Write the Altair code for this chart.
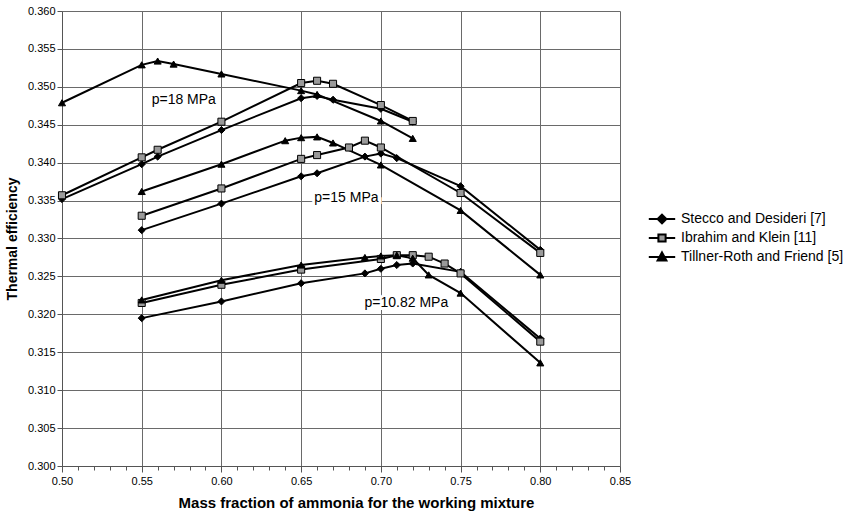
import altair as alt
import pandas as pd

SOURCES = ["Stecco and Desideri [7]", "Ibrahim and Klein [11]", "Tillner-Roth and Friend [5]"]

# Stecco and Desideri [7] (diamonds)
stecco_18_x = [0.50, 0.55, 0.56, 0.60, 0.65, 0.66, 0.67, 0.70, 0.72]
stecco_18_y = [0.3352, 0.3398, 0.3408, 0.3443, 0.3485, 0.3488, 0.3483, 0.3471, 0.3454]
stecco_15_x = [0.55, 0.60, 0.65, 0.66, 0.69, 0.70, 0.71, 0.75, 0.80]
stecco_15_y = [0.3311, 0.3346, 0.3382, 0.3386, 0.3408, 0.3412, 0.3406, 0.3369, 0.3285]
stecco_10_x = [0.55, 0.60, 0.65, 0.69, 0.70, 0.71, 0.72, 0.75, 0.80]
stecco_10_y = [0.3195, 0.3217, 0.3241, 0.3254, 0.3260, 0.3265, 0.3267, 0.3256, 0.3168]

# Ibrahim and Klein [11] (squares)
ibrahim_18_x = [0.50, 0.55, 0.56, 0.60, 0.65, 0.66, 0.67, 0.70, 0.72]
ibrahim_18_y = [0.3357, 0.3407, 0.3417, 0.3454, 0.3505, 0.3508, 0.3504, 0.3476, 0.3455]
ibrahim_15_x = [0.55, 0.60, 0.65, 0.66, 0.68, 0.69, 0.70, 0.75, 0.80]
ibrahim_15_y = [0.3330, 0.3366, 0.3405, 0.3410, 0.3420, 0.3429, 0.3420, 0.3360, 0.3281]
ibrahim_10_x = [0.55, 0.60, 0.65, 0.70, 0.71, 0.72, 0.73, 0.74, 0.75, 0.80]
ibrahim_10_y = [0.3215, 0.3239, 0.3259, 0.3273, 0.3278, 0.3278, 0.3276, 0.3267, 0.3254, 0.3164]

# Tillner-Roth and Friend [5] (triangles)
tillner_18_x = [0.50, 0.55, 0.56, 0.57, 0.60, 0.65, 0.66, 0.70, 0.72]
tillner_18_y = [0.3479, 0.3529, 0.3534, 0.3530, 0.3517, 0.3495, 0.3490, 0.3455, 0.3432]
tillner_15_x = [0.55, 0.60, 0.64, 0.65, 0.66, 0.67, 0.70, 0.75, 0.80]
tillner_15_y = [0.3362, 0.3398, 0.3429, 0.3433, 0.3434, 0.3426, 0.3397, 0.3337, 0.3252]
tillner_10_x = [0.55, 0.60, 0.65, 0.69, 0.70, 0.71, 0.72, 0.73, 0.75, 0.80]
tillner_10_y = [0.3219, 0.3245, 0.3265, 0.3275, 0.3277, 0.3278, 0.3274, 0.3252, 0.3228, 0.3136]

# annotations
ann_text = ["p=18 MPa", "p=15 MPa", "p=10.82 MPa"]
ann_x = [0.5764, 0.6784, 0.7160]
ann_y = [0.3483, 0.3353, 0.3215]

# axis ticks
y_ticks = [0.300, 0.305, 0.310, 0.315, 0.320, 0.325, 0.330, 0.335, 0.340, 0.345, 0.350, 0.355, 0.360]
x_ticks = [round(0.50 + 0.01 * i, 2) for i in range(36)]

series = [
    (SOURCES[0], "18", stecco_18_x, stecco_18_y),
    (SOURCES[0], "15", stecco_15_x, stecco_15_y),
    (SOURCES[0], "10.82", stecco_10_x, stecco_10_y),
    (SOURCES[1], "18", ibrahim_18_x, ibrahim_18_y),
    (SOURCES[1], "15", ibrahim_15_x, ibrahim_15_y),
    (SOURCES[1], "10.82", ibrahim_10_x, ibrahim_10_y),
    (SOURCES[2], "18", tillner_18_x, tillner_18_y),
    (SOURCES[2], "15", tillner_15_x, tillner_15_y),
    (SOURCES[2], "10.82", tillner_10_x, tillner_10_y),
]
rows = []
for src, p, xs, ys in series:
    for xv, yv in zip(xs, ys):
        rows.append({"x": xv, "y": yv, "source": src, "series": src + " " + p})
df = pd.DataFrame(rows)
ann_df = pd.DataFrame({"text": ann_text, "x": ann_x, "y": ann_y})

FONT = "Liberation Sans"
major_test = "abs(datum.value*20 - round(datum.value*20)) < 0.001"

X = alt.X(
    "x:Q",
    scale=alt.Scale(domain=[0.50, 0.85], nice=False, zero=False),
    axis=alt.Axis(
        values=x_ticks,
        labelExpr=f"{major_test} ? format(datum.value, '.2f') : ''",
        labelOverlap=False,
        labelFlush=False,
        grid=True,
        gridColor="#6a6a6a",
        gridOpacity={"condition": {"test": major_test, "value": 1}, "value": 0},
        tickSize={"condition": {"test": major_test, "value": 6}, "value": 4},
        title="Mass fraction of ammonia for the working mixture",
        titleFontSize=15,
        titleFontWeight="bold",
        titleX=294,
        titleAlign="center",
        titlePadding=9,
        labelPadding=3,
    ),
)
Y = alt.Y(
    "y:Q",
    scale=alt.Scale(domain=[0.300, 0.360], nice=False, zero=False),
    axis=alt.Axis(
        values=y_ticks,
        format=".3f",
        labelOverlap=False,
        labelFlush=False,
        grid=True,
        gridColor="#6a6a6a",
        tickSize=5,
        title="Thermal efficiency",
        titleFontSize=14,
        titleFontWeight="bold",
        titlePadding=8,
        labelPadding=2,
    ),
)

base = alt.Chart(df)

lines = base.mark_line(color="black", strokeWidth=2).encode(
    x=X, y=Y, detail="series:N", order="x:Q"
)

points = base.mark_point(filled=True, size=50, stroke="black", strokeWidth=1, opacity=1).encode(
    x=X,
    y=Y,
    shape=alt.Shape("source:N", scale=alt.Scale(domain=SOURCES, range=["diamond", "square", "triangle-up"]), legend=None),
    fill=alt.Fill("source:N", scale=alt.Scale(domain=SOURCES, range=["black", "#9a9a9a", "black"]), legend=None),
)

legend_paths = [
    "M-3.3,0H3.3M0,-1.1L1.1,0L0,1.1L-1.1,0Z",
    "M-3.3,0H-0.9M0.9,0H3.3M-0.9,-0.9H0.9V0.9H-0.9Z",
    "M-3.3,0H3.3M0,-1.15L1.1,0.85L-1.1,0.85Z",
]
leg = alt.Legend(
    title=None,
    orient="none",
    legendX=593,
    legendY=201,
    symbolSize=64,
    symbolOpacity=1,
    symbolStrokeWidth=2,
    labelFont=FONT,
    labelFontSize=14,
    labelColor="black",
    labelLimit=0,
    labelOffset=12,
    rowPadding=2,
    padding=0,
)
legend_layer = base.mark_point(filled=True, size=1, strokeWidth=2, opacity=0).encode(
    x=X,
    y=Y,
    shape=alt.Shape("source:N", scale=alt.Scale(domain=SOURCES, range=legend_paths), legend=leg),
    fill=alt.Fill("source:N", scale=alt.Scale(domain=SOURCES, range=["black", "#9a9a9a", "black"]), legend=leg),
    stroke=alt.Stroke("source:N", scale=alt.Scale(domain=SOURCES, range=["black", "black", "black"]), legend=leg),
)

halo = alt.Chart(ann_df).mark_text(
    font=FONT, fontSize=14, stroke="white", strokeWidth=6, fill="white", align="center", baseline="middle"
).encode(x=X, y=Y, text="text:N")
ann = alt.Chart(ann_df).mark_text(
    font=FONT, fontSize=14, color="black", align="center", baseline="middle"
).encode(x=X, y=Y, text="text:N")

chart = (
    alt.layer(lines, halo, ann, points, legend_layer)
    .resolve_scale(shape="independent", fill="independent", stroke="independent")
    .properties(
        width=558,
        height=455,
        autosize=alt.AutoSizeParams(type="none"),
        padding={"left": 62, "top": 11, "right": 230, "bottom": 52},
        background="white",
    )
    .configure_view(stroke=None)
    .configure_axis(
        labelFont=FONT,
        titleFont=FONT,
        labelFontSize=11,
        labelColor="black",
        titleColor="black",
        domainColor="#555555",
        tickColor="#555555",
    )
)

chart.save("out.html", embed_options={"renderer": "svg", "actions": False})
